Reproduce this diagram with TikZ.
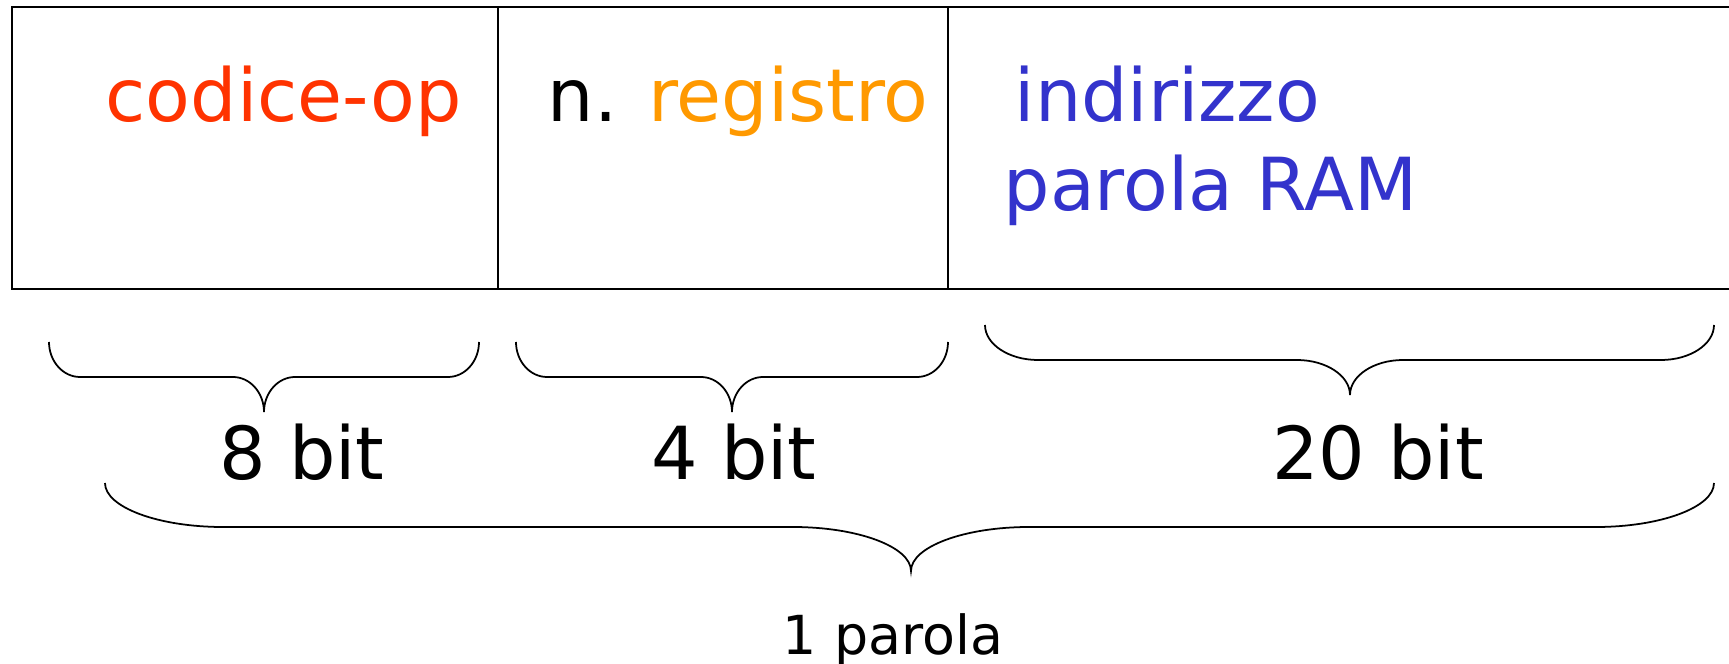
\documentclass[tikz,border=0pt]{standalone}
\usepackage{fontspec}
\setmainfont{DejaVu Sans}
\usepackage{tikz}
\usetikzlibrary{positioning}

\definecolor{rossoop}{RGB}{255,51,0}
\definecolor{arancio}{RGB}{255,153,0}
\definecolor{bluram}{RGB}{51,51,204}

% graffa orizzontale: x sinistra, x destra, x punta, y estremi, y tratto, y punta, raggio
\newcommand{\graffa}[7]{%
	\draw[brace] (#1,#4) .. controls (#1,{#4+0.55*(#5-#4)}) and ({#1+0.45*#7},#5) .. ({#1+#7},#5)
		-- ({#3-#7},#5) .. controls ({#3-0.45*#7},#5) and (#3,{#6-0.55*(#6-#5)}) .. (#3,#6)
		.. controls (#3,{#6-0.55*(#6-#5)}) and ({#3+0.45*#7},#5) .. ({#3+#7},#5)
		-- ({#2-#7},#5) .. controls ({#2-0.45*#7},#5) and (#2,{#4+0.55*(#5-#4)}) .. (#2,#4);}

\begin{document}
\begin{tikzpicture}[x=0.01cm, y=-0.01cm]
		\tikzstyle{cell}=[line width=0.6pt, draw=black]
		\tikzstyle{brace}=[line width=0.5pt, draw=black]
		\tikzstyle{big}=[inner sep=0pt, font=\fontsize{20.8}{25}\selectfont]
		\tikzstyle{small}=[inner sep=0pt, font=\fontsize{15.3}{18}\selectfont]
		\useasboundingbox (0,0) rectangle (1729,664);
		
		% la parola di memoria, aperta a destra
		\draw[cell] (1760,7) -- (12,7) -- (12,289) -- (1760,289);
		\draw[cell] (498,7) -- (498,289);
		\draw[cell] (948,7) -- (948,289);
		
		\node[big, anchor=base west, text=rossoop] (codiceop) at (105,122) {codice-op};
		\node[big, anchor=base west] (registro) at (547,122) {n. \textcolor{arancio}{registro}};
		\node[big, anchor=base west, text=bluram] (indirizzo) at (1014,122) {indirizzo};
		\node[big, anchor=base west, text=bluram] (parolaram) at (1003,211) {parola RAM};
		
		% campi
		\graffa{49}{479}{264}{342}{377}{412}{31}
		\graffa{516}{948}{732}{342}{377}{412}{31}
		\graffa{985}{1714}{1350}{325}{360}{395}{53}
		
		\node[big, anchor=base] (otto) at (302,480) {8 bit};
		\node[big, anchor=base] (quattro) at (734,480) {4 bit};
		\node[big, anchor=base] (venti) at (1378,480) {20 bit};
		
		% intera parola
		\graffa{105}{1714}{911}{483}{527}{571}{118}
		
		\node[small, anchor=base] (parola) at (893,655) {1 parola};

	\end{tikzpicture}
\end{document}
